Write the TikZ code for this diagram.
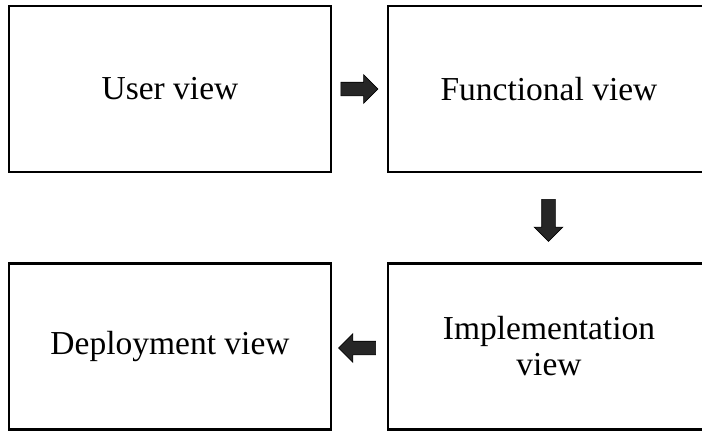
\documentclass[tikz,border=0pt]{standalone}
\usepackage{fontspec}
\setmainfont{Liberation Serif}
\usetikzlibrary{shapes.arrows}
\begin{document}
\begin{tikzpicture}[x=1pt,y=-1pt,
        viewbox/.style={draw, line width=2.2pt, minimum width=322pt, minimum height=166pt, align=center, font=\fontsize{33.5}{36}\selectfont},
        blockarrow/.style={single arrow, draw, fill=black!85, line width=0.6pt, inner sep=6.5pt, minimum height=37pt, single arrow head extend=7.5pt}]
                \useasboundingbox (0,0) rectangle (702,432);
                \clip (0,0) rectangle (702,432);
                \node [viewbox] (user) at (170,89) {User view};
                \node [viewbox] (func) at (549,89) {Functional view};
                \node [viewbox] (impl) at (549,346.5) {Implementation\\view};
                \node [viewbox] (deploy) at (170,346.5) {Deployment view};
                \node [blockarrow] (toright) at (356,89) {};
                \node [blockarrow, rotate=-90, minimum height=42pt] (todown) at (548.5,217) {};
                \node [blockarrow, rotate=180] (toleft) at (360.5,348) {};
            \end{tikzpicture}
\end{document}
